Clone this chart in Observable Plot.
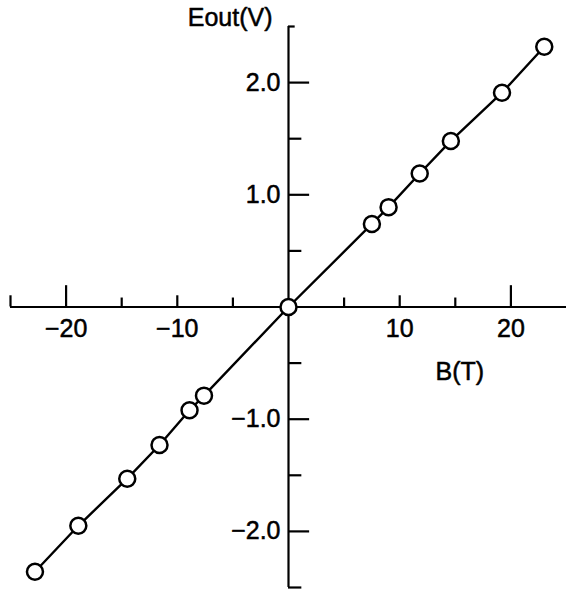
<!DOCTYPE html>
<html>
<head>
<meta charset="utf-8">
<script src="https://cdn.jsdelivr.net/npm/d3@7"></script>
<script src="https://cdn.jsdelivr.net/npm/@observablehq/plot@0.6"></script>
<style>
  html, body { margin: 0; padding: 0; background: #fff; }
  #chart svg { display: block; }
</style>
</head>
<body>
<div id="chart"></div>
<script>
// Hall probe output voltage versus magnetic field
const fieldB = [-22.8, -18.9, -14.5, -11.6, -8.9, -7.6, 0, 7.5, 9.0, 11.8, 14.6, 19.2, 23.0];
const voltageE = [-2.36, -1.95, -1.53, -1.23, -0.92, -0.79, 0, 0.74, 0.89, 1.19, 1.48, 1.91, 2.32];

// axis ticks and labels
const xTicksLong = [-20, 20];
const xTicksShort = [-10, 10];
const xTicksMinor = [-15, -5, 5, 15];
const xTickLabels = [-20, -10, 10, 20];
const yTicksMajor = [-2, -1, 1, 2];
const yTicksMinor = [-1.5, -0.5, 0.5, 1.5];
const yTickLabels = [-2, -1, 1, 2];
const xTitle = "B(T)";
const yTitle = "Eout(V)";

const points = fieldB.map((b, i) => ({b, e: voltageE[i]}));
const xMin = -25, xMax = 25, yMin = -2.5, yMax = 2.5;
const minus = (v, digits) => (v < 0 ? "\u2212" : "") + Math.abs(v).toFixed(digits);

const font = "'Liberation Sans', Arial, Helvetica, sans-serif";
const textStyle = {fontSize: 25, fill: "#000", stroke: "#000", strokeWidth: 0.5};

const chart = Plot.plot({
  width: 568,
  height: 590,
  marginLeft: 10,
  marginRight: 2,
  marginTop: 26,
  marginBottom: 3,
  x: {domain: [xMin, xMax], axis: null},
  y: {domain: [yMin, yMax], axis: null},
  style: {fontFamily: font, background: "#fff", color: "#000", overflow: "visible"},
  marks: [
    // axes crossing at the origin
    Plot.ruleY([0], {x1: xMin, x2: xMax, stroke: "#000", strokeWidth: 2.2}),
    Plot.ruleX([0], {y1: yMin, y2: yMax, stroke: "#000", strokeWidth: 2.2}),
    // x ticks (pointing up)
    Plot.ruleX(xTicksLong, {y1: 0, y2: 0.19, stroke: "#000", strokeWidth: 2.2}),
    Plot.ruleX(xTicksShort, {y1: 0, y2: 0.1, stroke: "#000", strokeWidth: 2.2}),
    Plot.ruleX(xTicksMinor, {y1: 0, y2: 0.08, stroke: "#000", strokeWidth: 2.2}),
    Plot.ruleX([xMin], {y1: 0, y2: 0.1, stroke: "#000", strokeWidth: 2.2}),
    // y ticks (pointing right)
    Plot.ruleY(yTicksMajor, {x1: 0, x2: 1.9, stroke: "#000", strokeWidth: 2.2}),
    Plot.ruleY(yTicksMinor, {x1: 0, x2: 1.2, stroke: "#000", strokeWidth: 2.2}),
    Plot.ruleY([yMax], {x1: 0, x2: 0.6, stroke: "#000", strokeWidth: 2.2}),
    Plot.ruleY([yMin], {x1: 0, x2: 1.2, stroke: "#000", strokeWidth: 2.2}),
    // tick labels
    Plot.text(xTickLabels, {
      x: d => d, y: 0, text: d => minus(d, 0),
      dy: 22, textAnchor: "middle", ...textStyle
    }),
    Plot.text(yTickLabels, {
      x: 0, y: d => d, text: d => minus(d, 1),
      dx: -8, textAnchor: "end", ...textStyle
    }),
    // axis titles
    Plot.text([yTitle], {
      x: 0, y: yMax, text: d => d, dx: -16, dy: -1,
      textAnchor: "end", lineAnchor: "bottom", ...textStyle
    }),
    Plot.text([xTitle], {
      x: 0, y: 0, text: d => d, dx: 147, dy: 65,
      textAnchor: "start", lineAnchor: "middle", ...textStyle
    }),
    // data line and open circles
    Plot.line(points, {x: "b", y: "e", stroke: "#000", strokeWidth: 2.4}),
    Plot.dot(points, {x: "b", y: "e", r: 8, fill: "#fff", stroke: "#000", strokeWidth: 2.5})
  ]
});

document.getElementById("chart").append(chart);
</script>
</body>
</html>
